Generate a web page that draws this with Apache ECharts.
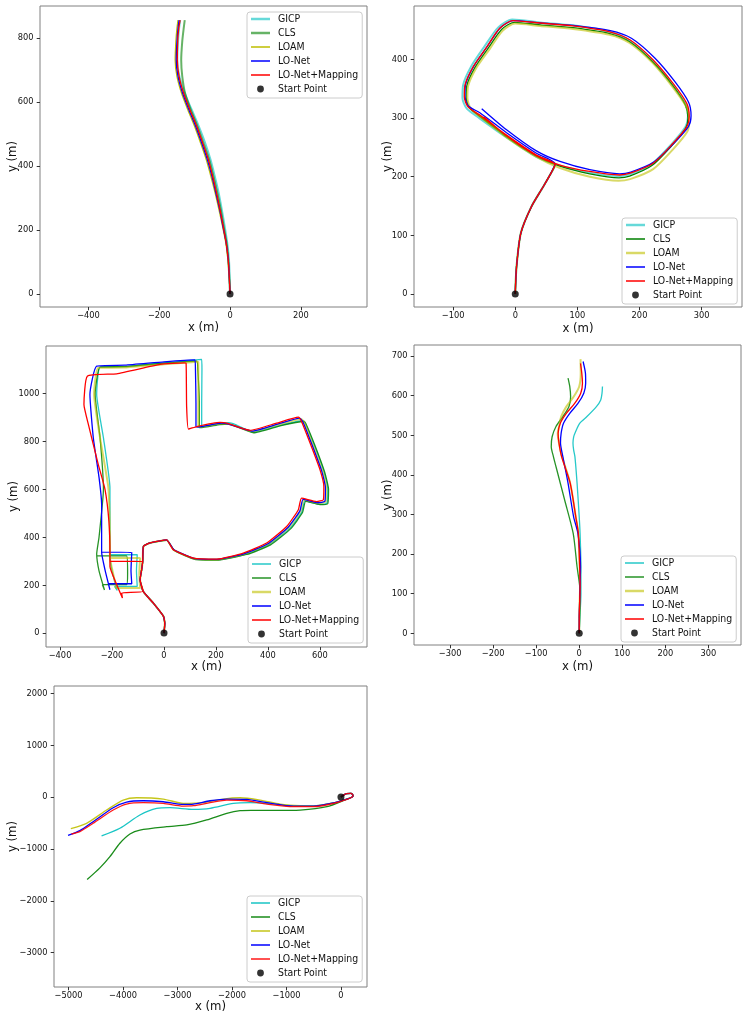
<!DOCTYPE html>
<html><head><meta charset="utf-8">
<script src="https://cdn.jsdelivr.net/npm/echarts@6/dist/echarts.min.js"></script>
<style>html,body{margin:0;padding:0;background:#fff}#c{width:747px;height:1019px}</style>
</head><body><div id="c"></div>
<script>
const seriesNames = ['GICP','CLS','LOAM','LO-Net','LO-Net+Mapping'];
const startName = 'Start Point';
const colors = ['#00bfbf','#008000','#bfbf00','#0000ff','#ff0000'];
const startPoint = [[0,0]];

// ---- Panel 1 ----
const p1_gicp = [[0,0],[-1,50],[-3,106],[-8,160],[-15,210],[-23,262],[-32,315],[-43,367],[-55,419],[-70,471],[-88,523],[-108,575],[-128,627],[-143,680],[-149,731],[-147,790],[-144,830],[-141,856]];
const p1_cls = [[0,0],[-2,50],[-5,106],[-10,160],[-18,210],[-26,262],[-36,315],[-47,367],[-59,419],[-75,471],[-92,523],[-111,575],[-127,627],[-135,680],[-138,731],[-135,790],[-131,830],[-128,856]];
const p1_loam = [[0,0],[-2,50],[-6,106],[-12,160],[-21,210],[-31,262],[-42,315],[-54,367],[-67,419],[-83,471],[-100,523],[-119,575],[-137,627],[-150,680],[-155,731],[-153,790],[-150,830],[-147,856]];
const p1_lonet = [[0,0],[-2,50],[-5,106],[-11,160],[-20,210],[-29,262],[-40,315],[-51,367],[-64,419],[-80,471],[-97,523],[-116,575],[-134,627],[-147,680],[-152,731],[-150,790],[-147,830],[-144,856]];
const p1_map = [[0,0],[-2,50],[-5,106],[-11,160],[-19,210],[-28,262],[-38,315],[-49,367],[-61,419],[-77,471],[-94,523],[-113,575],[-131,627],[-144,680],[-149,731],[-148,790],[-145,830],[-141,856]];
const p1_xticks = [-400,-200,0,200];
const p1_yticks = [0,200,400,600,800];

// ---- Panel 2 ----
const p2_gicp = [[0,0],[2,46],[9,104],[26,149],[45,183],[58,207],[64,221],[34,234],[-14,267],[-58,300],[-78,316],[-85,334],[-84,356],[-71,388],[-49,423],[-27,455],[-5,468],[40,463],[93,458],[152,447],[184,432],[220,398],[252,358],[274,324],[278,303],[274,285],[252,256],[220,222],[184,204],[167,201],[120,207],[72,219],[34,234],[-14,267],[-56,300]];
const p2_cls = [[0,0],[2,46],[9,104],[26,149],[45,183],[58,207],[64,220],[34,236],[-14,269],[-56,302],[-74,318],[-79,335],[-78,355],[-65,386],[-43,420],[-22,451],[-2,463],[40,459],[93,454],[152,444],[184,430],[221,396],[253,356],[274,322],[278,300],[274,282],[252,253],[220,219],[184,201],[167,198],[120,205],[72,218],[34,235],[-14,268],[-52,302]];
const p2_loam = [[0,0],[2,46],[9,104],[26,149],[45,183],[58,207],[64,219],[34,235],[-14,268],[-55,301],[-72,317],[-77,334],[-76,354],[-63,385],[-41,418],[-20,449],[0,461],[40,457],[93,452],[152,442],[184,428],[221,394],[254,352],[276,318],[280,296],[277,277],[255,248],[222,213],[185,196],[166,193],[120,200],[72,215],[34,234],[-14,267],[-52,300]];
const p2_lonet = [[0,0],[2,46],[9,104],[26,149],[45,183],[58,207],[64,222],[34,240],[-14,275],[-57,309],[-76,321],[-81,337],[-80,357],[-67,388],[-45,422],[-24,454],[-3,466],[40,462],[93,458],[153,449],[187,436],[225,402],[257,362],[279,327],[283,304],[279,286],[256,258],[223,225],[186,208],[168,205],[120,212],[72,226],[34,244],[-14,280],[-54,316]];
const p2_map = [[0,0],[2,46],[9,104],[26,149],[45,183],[58,207],[64,221],[34,237],[-14,271],[-57,305],[-76,319],[-82,336],[-81,356],[-68,387],[-46,421],[-25,453],[-4,466],[40,462],[93,457],[152,447],[185,433],[222,399],[254,359],[276,325],[280,303],[276,285],[254,257],[222,223],[185,206],[168,203],[120,209],[72,220],[34,236],[-14,270],[-50,302]];
const p2_xticks = [-100,0,100,200,300];
const p2_yticks = [0,100,200,300,400];

// ---- Panel 3 ----
const p3_gicp = [[0,0],[3,40],[-2,70],[-41,125],[-80,174],[-92,223],[-86,265],[-82,299],[-79,362],[-54,376],[10,388],[39,346],[117,310],[208,306],[315,330],[406,370],[485,438],[530,505],[542,552],[598,538],[627,543],[630,603],[615,675],[577,787],[542,880],[535,886],[450,868],[345,838],[275,870],[248,878],[212,874],[150,862],[145,860],[145,960],[146,1100],[145,1142],[0,1128],[-150,1112],[-246,1110],[-259,996],[-233,815],[-208,606],[-208,400],[-208,327],[-200,260],[-180,178],[-190,195],[-103,195],[-106,260],[-103,327],[-208,327]];
const p3_cls = [[0,0],[3,40],[-2,70],[-41,125],[-80,174],[-92,223],[-86,265],[-82,299],[-79,362],[-54,376],[10,387],[40,345],[118,308],[210,305],[318,328],[410,368],[488,436],[533,503],[545,550],[600,536],[630,540],[633,600],[618,672],[580,785],[545,876],[538,883],[450,866],[345,836],[270,866],[250,872],[215,870],[140,857],[136,857],[136,960],[130,1100],[126,1135],[0,1126],[-150,1112],[-246,1110],[-265,996],[-246,815],[-233,600],[-250,400],[-259,330],[-250,260],[-229,180],[-237,202],[-144,202],[-140,250],[-144,322],[-259,322]];
const p3_loam = [[0,0],[3,40],[-2,70],[-41,125],[-80,174],[-92,223],[-86,265],[-82,299],[-79,362],[-54,376],[10,388],[37,347],[115,311],[206,307],[310,331],[402,372],[480,441],[525,509],[537,556],[594,542],[622,548],[624,606],[609,677],[571,789],[538,882],[527,893],[443,871],[340,842],[250,872],[222,876],[135,860],[132,860],[132,960],[132,1100],[132,1132],[0,1122],[-150,1108],[-253,1107],[-269,996],[-246,815],[-214,606],[-208,400],[-208,313],[-196,250],[-185,190],[-188,188],[-92,188],[-95,250],[-92,313],[-208,313]];
const p3_lonet = [[0,0],[3,40],[-2,70],[-41,125],[-80,174],[-92,223],[-86,265],[-82,299],[-79,362],[-54,376],[10,389],[38,348],[115,312],[205,308],[310,332],[400,373],[478,442],[523,510],[535,558],[592,544],[619,550],[621,608],[606,679],[568,790],[535,880],[522,897],[440,873],[338,843],[248,872],[221,876],[130,860],[123,862],[123,960],[121,1100],[119,1140],[0,1132],[-150,1118],[-259,1114],[-285,996],[-272,815],[-250,650],[-240,537],[-240,400],[-240,337],[-227,264],[-208,181],[-214,206],[-124,206],[-127,260],[-124,337],[-240,338]];
const p3_map = [[0,0],[3,40],[-2,70],[-41,125],[-80,174],[-92,223],[-86,265],[-82,299],[-79,362],[-54,376],[10,389],[36,348],[113,313],[203,309],[305,334],[395,376],[472,445],[517,515],[529,563],[587,549],[613,556],[615,612],[600,682],[562,793],[529,883],[517,901],[433,876],[331,846],[241,876],[215,879],[126,862],[94,851],[87,946],[85,1127],[78,1128],[-15,1121],[-182,1082],[-295,1072],[-308,954],[-291,871],[-253,704],[-227,600],[-212,467],[-208,328],[-208,278],[-185,210],[-160,146],[-163,167],[-80,175],[-92,223],[-86,265],[-82,299],[-208,300]];
const p3_xticks = [-400,-200,0,200,400,600];
const p3_yticks = [0,200,400,600,800,1000];

// ---- Panel 4 ----
const p4_gicp = [[0,0],[2,50],[4,100],[4,168],[2,252],[0,294],[-5,379],[-10,446],[-13,463],[-14.5,480],[-13,495],[-10,505],[1,530],[18,547],[40,572],[50,589],[53,606],[54,623]];
const p4_cls = [[0,0],[1,40],[2,80],[1,120],[-5,168],[-14,252],[-34,337],[-50,404],[-60,446],[-65,471],[-63,496],[-54,522],[-38,547],[-24,572],[-20,597],[-22,623],[-26,644]];
const p4_loam = [[0,0],[0,40],[1,80],[2,120],[1,168],[-2,252],[-8,294],[-21,379],[-40,446],[-47,480],[-50,505],[-46,526],[-42,547],[-30,572],[-13,597],[0,623],[3.5,656],[3,692]];
const p4_lonet = [[0,0],[0,40],[1,80],[2,120],[3,168],[-3,252],[-13,294],[-26,379],[-38,446],[-43.5,480],[-42,505],[-36.5,530],[-22,555],[-3,580],[10.6,606],[15,631],[14.5,656],[9,686]];
const p4_map = [[0,0],[0,40],[1,80],[2,120],[1,168],[-2,252],[-8,294],[-21,379],[-41,446],[-47,480],[-49,505],[-44,530],[-30,555],[-10.6,580],[3.5,606],[7.5,631],[6,656],[3,681]];
const p4_xticks = [-300,-200,-100,0,100,200,300];
const p4_yticks = [0,100,200,300,400,500,600,700];

// ---- Panel 5 ----
const p5_gicp = [[0,0],[103,65],[186,70],[222,30],[206,0],[110,-40],[-136,-112],[-503,-170],[-871,-167],[-1360,-122],[-1667,-109],[-1973,-122],[-2402,-218],[-2708,-237],[-3137,-205],[-3382,-218],[-3689,-346],[-4056,-602],[-4392,-750]];
const p5_cls = [[0,0],[103,65],[186,70],[222,30],[206,0],[110,-40],[-258,-186],[-747,-250],[-1237,-258],[-1650,-258],[-1851,-263],[-2095,-314],[-2463,-442],[-2830,-538],[-3198,-571],[-3689,-635],[-3872,-712],[-4056,-890],[-4239,-1148],[-4423,-1365],[-4657,-1590]];
const p5_loam = [[0,0],[103,65],[186,70],[222,30],[206,0],[110,-40],[-136,-112],[-503,-170],[-749,-167],[-1116,-135],[-1483,-58],[-1851,-13],[-2158,-38],[-2525,-109],[-2893,-122],[-3260,-38],[-3749,-13],[-3995,-58],[-4300,-250],[-4668,-506],[-4956,-609]];
const p5_lonet = [[0,0],[103,65],[186,70],[222,30],[206,0],[110,-40],[-136,-112],[-503,-175],[-871,-175],[-1360,-109],[-1728,-45],[-2095,-38],[-2402,-71],[-2708,-135],[-2893,-141],[-3260,-90],[-3628,-71],[-3933,-96],[-4179,-205],[-4547,-475],[-4791,-648],[-5007,-737]];
const p5_map = [[0,0],[103,65],[186,70],[222,30],[206,0],[110,-45],[-136,-122],[-503,-186],[-871,-186],[-1360,-135],[-1728,-71],[-2095,-58],[-2402,-109],[-2708,-167],[-2893,-173],[-3260,-122],[-3628,-109],[-3933,-135],[-4179,-250],[-4547,-506],[-4791,-667],[-4944,-712]];
const p5_xticks = [-5000,-4000,-3000,-2000,-1000,0];
const p5_yticks = [-3000,-2000,-1000,0,1000,2000];

const FONT = '"DejaVu Sans Condensed", "DejaVu Sans"';
const TXT = '#111';
const fmt = v => v < 0 ? '\u2212' + Math.abs(v) : String(v);
const bounds = 'M0,0L0.01,0L0,0.01ZM21.99,7L22,7L22,6.99Z';
const thinIcon = 'path://' + bounds + 'M0,2.8L19,2.8L19,4.2L0,4.2Z';
const thickIcon = 'path://' + bounds + 'M0,2.2L19,2.2L19,4.8L0,4.8Z';
const dotIcon = 'path://' + bounds + 'M6.1,3.5A3.4,3.4 0 1,0 12.9,3.5A3.4,3.4 0 1,0 6.1,3.5Z';

const panels = [
  {grid:{left:40,top:6,width:327,height:301}, x:[-537,387], y:[-41,900], xt:p1_xticks, yt:p1_yticks,
   data:[p1_gicp,p1_cls,p1_loam,p1_lonet,p1_map], thick:[1,1,0,0,0], op:[0.6,0.6,1,1,1],
   legend:{left:247,top:12}, xGap:14.5, yGap:21},
  {grid:{left:414,top:6,width:328,height:301}, x:[-163,365], y:[-22,491], xt:p2_xticks, yt:p2_yticks,
   data:[p2_gicp,p2_cls,p2_loam,p2_lonet,p2_map], thick:[1,0,1,0,0], op:[0.6,1,0.6,1,1],
   legend:{left:622,top:218}, xGap:14.8, yGap:20},
  {grid:{left:46,top:346,width:321,height:301}, x:[-454,781], y:[-58,1198], xt:p3_xticks, yt:p3_yticks,
   data:[p3_gicp,p3_cls,p3_loam,p3_lonet,p3_map], thick:[0,0,1,0,0], op:[0.85,0.85,0.6,1,1],
   legend:{left:248,top:557}, xGap:13, yGap:26},
  {grid:{left:414,top:345,width:327,height:300}, x:[-384,376], y:[-29.5,727.6], xt:p4_xticks, yt:p4_yticks,
   data:[p4_gicp,p4_cls,p4_loam,p4_lonet,p4_map], thick:[0,0,1,0,0], op:[0.85,0.85,0.6,1,1],
   legend:{left:621,top:556}, xGap:14.8, yGap:20},
  {grid:{left:54,top:686,width:313,height:301}, x:[-5265,478], y:[-3660,2140], xt:p5_xticks, yt:p5_yticks,
   data:[p5_gicp,p5_cls,p5_loam,p5_lonet,p5_map], thick:[0,0,0,0,0], op:[0.9,0.9,0.9,1,0.9],
   legend:{left:247,top:896}, xGap:13.5, yGap:35}
];

const grid = [], xAxis = [], yAxis = [], series = [], legend = [];
panels.forEach((p, k) => {
  grid.push(Object.assign({show:true, borderColor:'#808080', borderWidth:1, backgroundColor:'#fff', containLabel:false}, p.grid));
  const common = (ticks) => ({
    type:'value', gridIndex:k, splitLine:{show:false},
    axisLine:{show:false, onZero:false},
    axisTick:{show:true, inside:false, length:3.3, lineStyle:{color:'#333', width:1}, customValues:ticks},
    axisLabel:{customValues:ticks, formatter:fmt, fontFamily:FONT, fontSize:9.2, color:TXT},
    nameLocation:'middle', nameMoveOverlap:false, nameTextStyle:{fontFamily:FONT, fontSize:13, color:TXT}
  });
  const xa = common(p.xt); xa.position = 'bottom'; xa.min = p.x[0]; xa.max = p.x[1]; xa.name = 'x (m)'; xa.nameGap = p.xGap; xa.axisLabel.margin = 4.5;
  const ya = common(p.yt); ya.position = 'left'; ya.min = p.y[0]; ya.max = p.y[1]; ya.name = 'y (m)'; ya.nameGap = p.yGap; ya.nameRotate = 90; ya.axisLabel.margin = 6.5;
  xAxis.push(xa); yAxis.push(ya);
  p.data.forEach((d, i) => {
    series.push({
      type:'line', name:seriesNames[i], xAxisIndex:k, yAxisIndex:k, data:d,
      symbol:'none', showSymbol:false, smooth:(k === 2 ? 0.15 : 0.25), silent:true,
      color:colors[i],
      lineStyle:{color:colors[i], width:p.thick[i] ? 2 : 1.3, opacity:p.op[i]},
      z:2 + i
    });
  });
  series.push({type:'scatter', name:startName, xAxisIndex:k, yAxisIndex:k, data:startPoint,
    symbol:'circle', symbolSize:7, itemStyle:{color:'#000'}, color:'#000', z:10, silent:true});
  legend.push({
    orient:'vertical', left:p.legend.left, top:p.legend.top,
    itemWidth:22, itemHeight:7, itemGap:2, padding:[1,4,3,4],
    backgroundColor:'rgba(255,255,255,0.8)', borderColor:'#cccccc', borderWidth:1, borderRadius:3,
    textStyle:{fontFamily:FONT, fontSize:10.4, color:TXT, lineHeight:12},
    itemStyle:{borderWidth:0}, selectedMode:false,
    data: seriesNames.map((n, i) => ({name:n, icon:p.thick[i] ? thickIcon : thinIcon, itemStyle:{opacity:p.op[i], borderWidth:0}}))
      .concat([{name:startName, icon:dotIcon, itemStyle:{borderWidth:0}}])
  });
});

const chart = echarts.init(document.getElementById('c'), null, {renderer:'canvas'});
chart.setOption({animation:false, backgroundColor:'#fff', textStyle:{fontFamily:FONT}, grid, xAxis, yAxis, series, legend});
</script>
</body></html>
